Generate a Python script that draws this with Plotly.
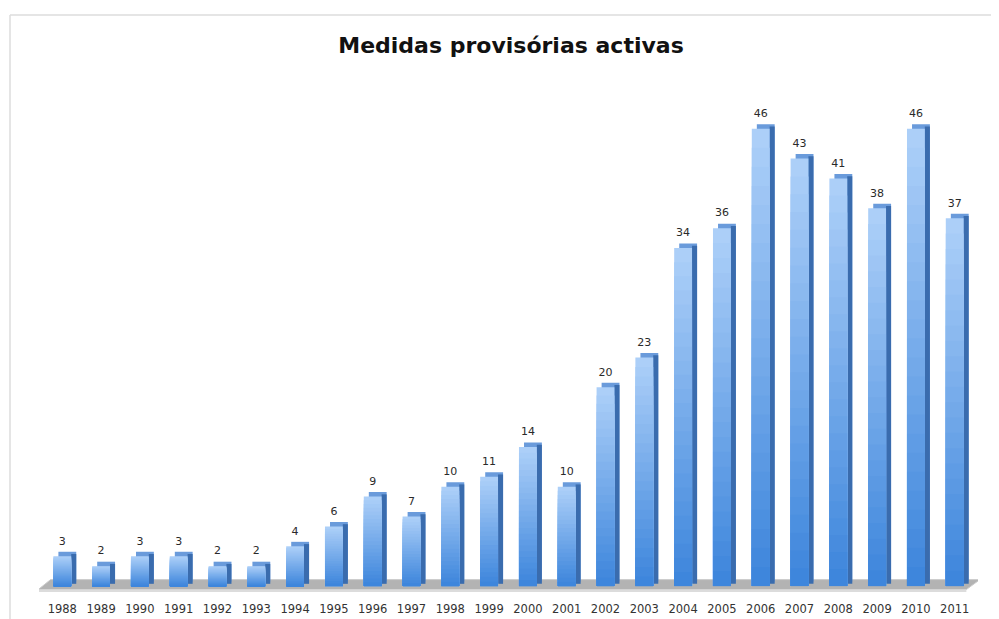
import plotly.graph_objects as go

years = ["1988", "1989", "1990", "1991", "1992", "1993", "1994", "1995", "1996", "1997",
         "1998", "1999", "2000", "2001", "2002", "2003", "2004", "2005", "2006", "2007",
         "2008", "2009", "2010", "2011"]
values = [3, 2, 3, 3, 2, 2, 4, 6, 9, 7, 10, 11, 14, 10, 20, 23, 34, 36, 46, 43, 41, 38, 46, 37]
title_text = "Medidas provisórias activas"

W, H = 999, 619
OFF = 8  # page body margin offset
ML, MR, MT, MB = 39 - OFF, 21 + OFF, 89 - OFF, 23 + OFF
YMIN, YMAX = -1, 50
XMIN, XMAX = -0.6, len(years) - 0.4

xs = list(range(len(years)))
fig = go.Figure()

BW = 0.46          # front face width
DX = 0.13          # depth offset in x
DY = 0.45          # depth offset in y

# back (top/side faces)
fig.add_trace(go.Bar(x=xs, y=values, base=DY, width=BW, offset=-BW / 2 + DX,
                     marker=dict(color="#6a9bdb", line=dict(width=0)),
                     hoverinfo="skip", showlegend=False))
# darker side strip
fig.add_trace(go.Bar(x=xs, y=values, base=DY * 0.5, width=DX, offset=BW / 2,
                     marker=dict(color="#3a6cae", line=dict(width=0)),
                     hoverinfo="skip", showlegend=False))

# front face with vertical gradient (light top -> deeper bottom)
N = 24
top_rgb = (172, 207, 248)
bot_rgb = (62, 134, 220)
for k in range(N):
    f = (N - k) / N
    t = k / (N - 1)
    c = tuple(round(top_rgb[i] + (bot_rgb[i] - top_rgb[i]) * t) for i in range(3))
    fig.add_trace(go.Bar(x=xs, y=[v * f for v in values], width=BW, offset=-BW / 2,
                         marker=dict(color="rgb(%d,%d,%d)" % c, line=dict(width=0)),
                         hoverinfo="skip", showlegend=False))

# value labels
fig.add_trace(go.Scatter(x=xs, y=[v + DY + 0.45 for v in values], mode="text",
                         text=[str(v) for v in values], textposition="top center",
                         textfont=dict(family="DejaVu Sans", size=11, color="#2a2a2a"),
                         hoverinfo="skip", showlegend=False))

# floor
floor = ("M %f,%f L %f,%f L %f,%f L %f,%f Z" %
         (XMIN - 0.02, -0.35, XMAX - 0.3, -0.35, XMAX + 0.05, 0.65, XMIN + 0.3, 0.65))
fig.add_shape(type="path", path=floor, xref="x", yref="y",
              fillcolor="#b3b3b3", line=dict(color="#cccccc", width=1), layer="below")
front = ("M %f,%f L %f,%f L %f,%f L %f,%f Z" %
         (XMIN - 0.02, -0.35, XMAX - 0.3, -0.35, XMAX - 0.3, -0.6, XMIN - 0.02, -0.6))
fig.add_shape(type="path", path=front, xref="x", yref="y",
              fillcolor="#dcdcdc", line=dict(width=0), layer="below")

# frame lines (left and top) around chart area
pw = W - ML - MR
ph = H - MT - MB
def px_to_paper_x(p):
    return (p - OFF - ML) / pw
def px_to_paper_y(p):
    return (H - MB - (p - OFF)) / ph
fig.add_shape(type="line", xref="paper", yref="paper",
              x0=px_to_paper_x(10), x1=px_to_paper_x(10),
              y0=px_to_paper_y(15), y1=px_to_paper_y(619),
              line=dict(color="#dddddd", width=1.5))
fig.add_shape(type="line", xref="paper", yref="paper",
              x0=px_to_paper_x(10), x1=px_to_paper_x(1005),
              y0=px_to_paper_y(15), y1=px_to_paper_y(15),
              line=dict(color="#dddddd", width=1.5))

fig.update_layout(
    width=W, height=H,
    margin=dict(l=ML, r=MR, t=MT, b=MB),
    barmode="overlay",
    paper_bgcolor="white", plot_bgcolor="white",
    title=dict(text="<b>" + title_text + "</b>", x=(511 - OFF) / W, xanchor="center",
               y=1 - (45 - OFF) / H, yanchor="middle",
               font=dict(family="DejaVu Sans", size=22, color="#111111")),
    xaxis=dict(range=[XMIN, XMAX], tickmode="array", tickvals=xs, ticktext=years,
               showgrid=False, zeroline=False, showline=False, ticks="",
               ticklabelstandoff=4,
               tickfont=dict(family="DejaVu Sans", size=11.5, color="#333333")),
    yaxis=dict(range=[YMIN, YMAX], showgrid=False, zeroline=False, showline=False,
               showticklabels=False, ticks=""),
    showlegend=False,
)

fig.write_html("out.html")
